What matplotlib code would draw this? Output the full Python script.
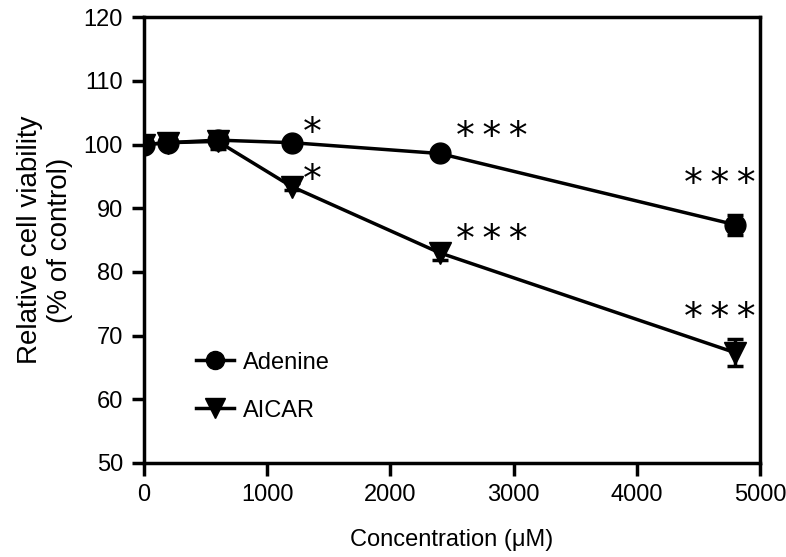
import matplotlib
matplotlib.use("Agg")
import matplotlib.pyplot as plt
from matplotlib.lines import Line2D

plt.rcParams['font.family'] = ['Liberation Sans', 'DejaVu Sans']

# Data
conc = [0, 200, 600, 1200, 2400, 4800]
adenine = [100.0, 100.3, 100.7, 100.3, 98.6, 87.4]
adenine_err = [0.5, 0.5, 0.8, 0.5, 0.7, 1.6]
aicar = [100.0, 100.3, 100.5, 93.4, 83.0, 67.3]
aicar_err = [0.5, 0.5, 1.2, 0.6, 1.2, 2.1]

# significance marks
stars_x = [1370, 2825, 4670, 1370, 2825, 4670]
stars_y = [101.6, 101.0, 93.6, 94.3, 84.9, 72.6]
stars_txt = ['*', '*\u2009*\u2009*', '*\u2009*\u2009*', '*', '*\u2009*\u2009*', '*\u2009*\u2009*']

fig = plt.figure(figsize=(7.86, 5.57), dpi=100)
ax = fig.add_axes([0.183, 0.169, 0.784, 0.8])

ax.errorbar(conc, adenine, yerr=adenine_err, color='black', marker='o', markersize=15,
            linewidth=2.5, capsize=6, capthick=2.5, elinewidth=2.5)
ax.errorbar(conc, aicar, yerr=aicar_err, color='black', marker='v', markersize=16,
            linewidth=2.5, capsize=6, capthick=2.5, elinewidth=2.5)

for x, y, t in zip(stars_x, stars_y, stars_txt):
    ax.text(x, y, t, ha='center', va='center', fontsize=27, family='DejaVu Sans')

ax.set_xlim(0, 5000)
ax.set_ylim(50, 120)
ax.set_xticks([0, 1000, 2000, 3000, 4000, 5000])
ax.set_yticks(range(50, 121, 10))
ax.tick_params(direction='out', length=9, width=2.5, labelsize=17, pad=6)
for s in ax.spines.values():
    s.set_linewidth(2.5)

ax.set_xlabel('Concentration (\u03bcM)', fontsize=17, labelpad=17)
ax.set_ylabel('Relative cell viability\n(% of control)', fontsize=20, labelpad=8)

handles = [Line2D([], [], color='black', marker='o', markersize=13, linewidth=2.5),
           Line2D([], [], color='black', marker='v', markersize=14, linewidth=2.5)]
ax.legend(handles, ['Adenine', 'AICAR'], loc='lower left', bbox_to_anchor=(0.05, 0.045),
          frameon=False, fontsize=17, handlelength=1.6, labelspacing=1.1,
          handletextpad=0.4, numpoints=1)

fig.savefig('out.png', dpi=100)
